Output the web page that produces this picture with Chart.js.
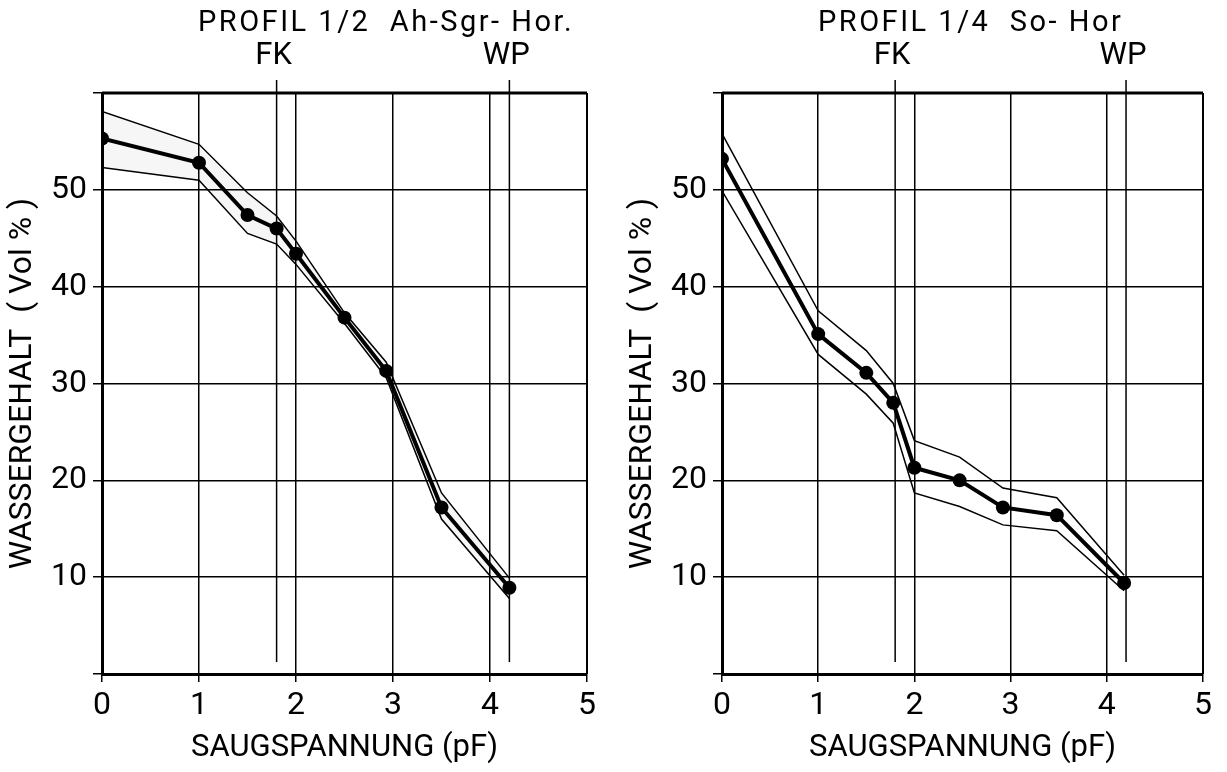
<!DOCTYPE html>
<html>
<head>
<meta charset="utf-8">
<script src="https://cdn.jsdelivr.net/npm/chart.js@4.4.1/dist/chart.umd.min.js"></script>
<style>
  html, body { margin: 0; padding: 0; background: #fff; }
  #wrap { position: relative; width: 1227px; height: 772px; }
  canvas { position: absolute; top: 0; }
</style>
</head>
<body>
<div id="wrap">
  <canvas id="left" width="613" height="772" style="left:0"></canvas>
  <canvas id="right" width="614" height="772" style="left:613px"></canvas>
</div>
<script>
// values
const pfLeft = [0, 1, 1.5, 1.8, 2, 2.5, 2.93, 3.5, 4.2];
const wasserLeft = [55.3, 52.8, 47.4, 46.0, 43.4, 36.8, 31.3, 17.2, 8.9];
const upperLeft = [58.1, 54.7, 49.7, 47.3, 44.7, 37.3, 32.2, 18.7, 9.9];
const lowerLeft = [52.3, 51.0, 45.5, 44.4, 42.3, 36.2, 30.6, 16.0, 7.8];

const pfRight = [0, 1, 1.5, 1.78, 2, 2.47, 2.92, 3.48, 4.18];
const wasserRight = [53.2, 35.1, 31.1, 28.0, 21.3, 20.0, 17.2, 16.4, 9.4];
const upperRight = [55.8, 37.5, 33.4, 30.0, 24.1, 22.4, 19.2, 18.2, 10.2];
const lowerRight = [49.9, 33.0, 28.9, 25.9, 18.7, 17.3, 15.4, 14.8, 8.6];

const xTicks = [0, 1, 2, 3, 4, 5];
const yTicks = [10, 20, 30, 40, 50];
const markerLabels = ['FK', 'WP'];
const markerValues = [1.8, 4.2];

const titleLeft = 'PROFIL 1/2  Ah-Sgr- Hor.';
const titleRight = 'PROFIL 1/4  So- Hor';
const xTitle = 'SAUGSPANNUNG (pF)';
const yTitle = 'WASSERGEHALT  ( Vol % )';

const FONT = 'Roboto, "DejaVu Sans", sans-serif';

function points(xs, ys) {
    return xs.map((x, i) => ({ x: x, y: ys[i] }));
}

// header text, FK/WP marker lines and the top/right frame
const decorations = {
    id: 'decorations',
    afterDraw(chart, args, opts) {
        const ctx = chart.ctx;
        const area = chart.chartArea;
        const xs = chart.scales.x;
        ctx.save();
        ctx.fillStyle = '#000';
        ctx.strokeStyle = '#000';

        ctx.font = '29px ' + FONT;
        ctx.letterSpacing = '2.5px';
        ctx.textAlign = 'left';
        ctx.textBaseline = 'middle';
        ctx.fillText(opts.title, area.left + 96, 24);

        ctx.font = '31px ' + FONT;
        ctx.letterSpacing = '0px';
        ctx.textAlign = 'center';
        ctx.lineWidth = 1.5;
        markerValues.forEach((v, i) => {
            const px = xs.getPixelForValue(v);
            ctx.fillText(markerLabels[i], px - 3, 56);
            ctx.beginPath();
            ctx.moveTo(px, 80);
            ctx.lineTo(px, area.bottom - 12);
            ctx.stroke();
        });

        ctx.lineWidth = 3;
        ctx.beginPath();
        ctx.moveTo(area.left, area.top);
        ctx.lineTo(area.right, area.top);
        ctx.stroke();
        ctx.lineWidth = 2;
        ctx.beginPath();
        ctx.moveTo(area.right, area.top);
        ctx.lineTo(area.right, area.bottom);
        ctx.stroke();
        ctx.restore();
    }
};

function makeChart(id, cfg) {
    const ctx = document.getElementById(id).getContext('2d');
    return new Chart(ctx, {
        type: 'line',
        data: {
            datasets: [{
                data: points(cfg.pf, cfg.upper),
                borderColor: '#000',
                borderWidth: 1.5,
                pointRadius: 0,
                fill: cfg.shade ? '+1' : false,
                backgroundColor: 'rgba(0,0,0,0.035)'
            }, {
                data: points(cfg.pf, cfg.lower),
                borderColor: '#000',
                borderWidth: 1.5,
                pointRadius: 0,
                fill: false
            }, {
                data: points(cfg.pf, cfg.values),
                borderColor: '#000',
                borderWidth: 4,
                pointRadius: 7,
                pointBackgroundColor: '#000',
                pointBorderWidth: 0,
                fill: false
            }]
        },
        options: {
            responsive: false,
            animation: false,
            layout: { padding: { left: cfg.padLeft, right: cfg.padRight, top: 93, bottom: 0 } },
            plugins: {
                legend: { display: false },
                tooltip: { enabled: false },
                decorations: { title: cfg.title }
            },
            scales: {
                x: {
                    type: 'linear',
                    min: 0,
                    max: 5,
                    afterFit(scale) { scale.height = 98; },
                    afterBuildTicks(scale) { scale.ticks = xTicks.map(v => ({ value: v })); },
                    ticks: {
                        color: '#000',
                        font: { family: FONT, size: 32 },
                        padding: 5,
                        maxRotation: 0
                    },
                    grid: { color: '#000', lineWidth: 1.5, tickLength: 8 },
                    border: { color: '#000', width: 3 },
                    title: {
                        display: true,
                        text: xTitle,
                        color: '#000',
                        font: { family: FONT, size: 31 },
                        padding: { top: 0, bottom: 5 }
                    }
                },
                y: {
                    min: 0,
                    max: 60,
                    afterFit(scale) { scale.width = cfg.axisWidth; },
                    afterBuildTicks(scale) { scale.ticks = [0].concat(yTicks, [60]).map(v => ({ value: v })); },
                    ticks: {
                        color: '#000',
                        font: { family: FONT, size: 32 },
                        padding: 6,
                        callback: v => yTicks.includes(v) ? v : ''
                    },
                    grid: { color: '#000', lineWidth: 1.5, tickLength: 9 },
                    border: { color: '#000', width: 3 },
                    title: {
                        display: true,
                        text: yTitle,
                        color: '#000',
                        font: { family: FONT, size: 32 },
                        padding: { top: 4, bottom: 0 }
                    }
                }
            }
        },
        plugins: [decorations]
    });
}

makeChart('left', {
    pf: pfLeft, values: wasserLeft, upper: upperLeft, lower: lowerLeft,
    title: titleLeft, shade: true, padLeft: 0, padRight: 26, axisWidth: 102
});
makeChart('right', {
    pf: pfRight, values: wasserRight, upper: upperRight, lower: lowerRight,
    title: titleRight, shade: false, padLeft: 7, padRight: 24, axisWidth: 102
});
</script>
</body>
</html>
